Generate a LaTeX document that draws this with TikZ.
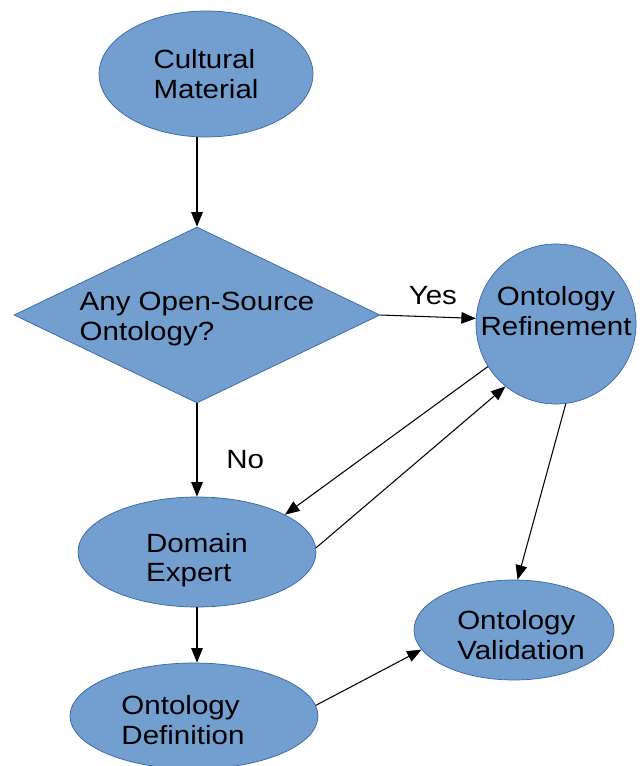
\documentclass[tikz,border=0pt]{standalone}
\usepackage{fontspec}
\setmainfont{Liberation Sans}[FakeStretch=1.12]
\usetikzlibrary{shapes.geometric, arrows.meta}

\definecolor{fillblue}{HTML}{729FCF}
\definecolor{lineblue}{HTML}{3465A4}

% invisible struts to nudge text inside a shape
\newcommand{\padtop}[1]{\rule{0pt}{#1}}
\newcommand{\padbot}[1]{\rule[-#1]{0pt}{0pt}}

\tikzset{
  blob/.style={ellipse, draw=lineblue, fill=fillblue, line width=0.4pt, inner sep=0pt, align=left},
  query/.style={diamond, aspect=2.08, draw=lineblue, fill=fillblue, line width=0.4pt, inner sep=0pt, align=left},
  round/.style={circle, draw=lineblue, fill=fillblue, line width=0.4pt, inner sep=-2.6pt, align=center}
}

\begin{document}
\begin{tikzpicture}[->, >={Triangle[length=2.9mm, width=2.3mm]}, x=0.02cm, y=-0.02cm, line width=0.6pt,
  font=\fontsize{15}{16.8}\selectfont]
  \useasboundingbox (0,0) rectangle (644,766);

  % Flow nodes
  \node[blob, minimum width=4.28cm, minimum height=2.52cm] (cultural) at (206,74) {Cultural\\Material};
  \node[query, minimum width=7.32cm, minimum height=3.52cm] (anysource) at (197,315) {\padtop{15.3pt}Any Open-Source\\Ontology?};
  \node[round, minimum size=3.2cm] (refinement) at (556,324) {Ontology\\Refinement\padbot{14.7pt}};
  \node[blob, minimum width=4.76cm, minimum height=2.2cm] (expert) at (197,552) {\padtop{20.4pt}Domain\\Expert};
  \node[blob, minimum width=3.96cm, minimum height=2cm] (validation) at (514,630) {\hspace*{0.28cm}\padtop{16.5pt}Ontology\\\hspace*{0.28cm}Validation};
  \node[blob, minimum width=4.96cm, minimum height=2.12cm] (definition) at (194,716) {\padtop{15.3pt}Ontology\\Definition\hspace*{0.44cm}};

  % Connectors
  \path (cultural.south -| anysource.north) edge (anysource.north)
        (anysource.south) edge node[right=0.46cm, pos=0.6] {No} (expert.north)
        (anysource.east) edge node[above=3pt, pos=0.55] {Yes} (refinement.176)
        (refinement.212) edge (expert.23)
        (expert.2) edge (refinement.231)
        (refinement.277) edge (validation.86)
        (expert.south) edge (expert.south |- definition.north)
        (definition.5) edge (validation.192);
\end{tikzpicture}
\end{document}
